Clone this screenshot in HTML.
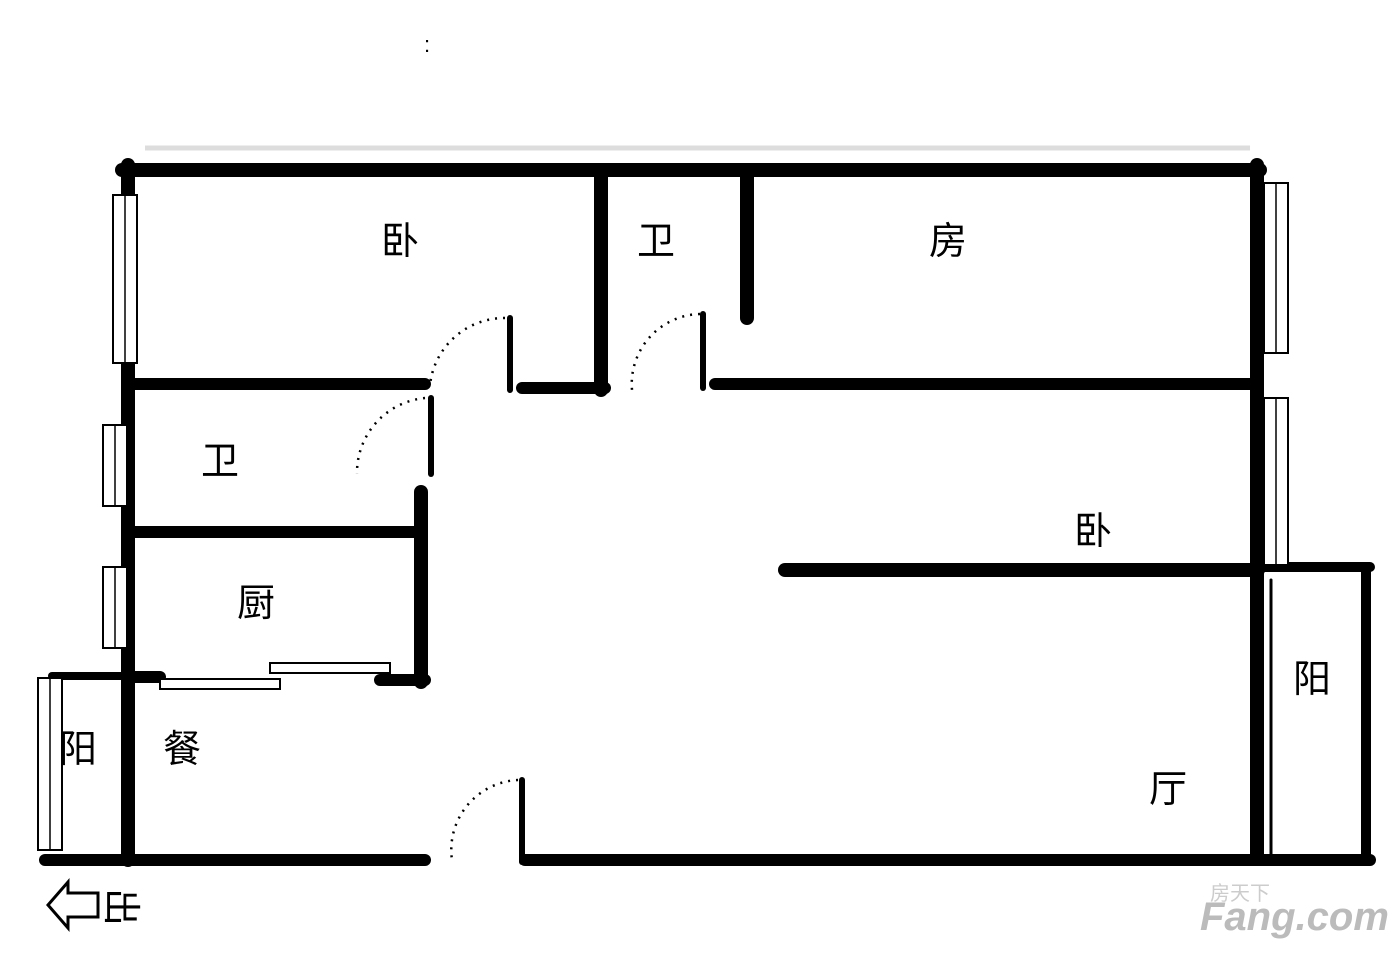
<!DOCTYPE html>
<html><head><meta charset="utf-8"><style>
html,body{margin:0;padding:0;background:#fff;}
svg{display:block}
text{font-family:"Liberation Sans","Noto Sans CJK SC",sans-serif;}
</style></head><body>
<svg width="1400" height="959" viewBox="0 0 1400 959" xmlns="http://www.w3.org/2000/svg">
<rect width="1400" height="959" fill="#fff"/>
<text x="424" y="52" font-size="22" fill="#000">:</text>
<line x1="145" y1="148" x2="1250" y2="148" stroke="#ddd" stroke-width="5"/>
<g stroke="#000" stroke-linecap="round" fill="none">
<!-- outer -->
<line x1="122" y1="170" x2="1260" y2="170" stroke-width="14"/>
<line x1="128" y1="165" x2="128" y2="860" stroke-width="14"/>
<line x1="1257" y1="165" x2="1257" y2="858" stroke-width="14"/>
<line x1="45" y1="860" x2="425" y2="860" stroke-width="12"/>
<line x1="525" y1="860" x2="1370" y2="860" stroke-width="12"/>
<line x1="1262" y1="567" x2="1370" y2="567" stroke-width="10"/>
<line x1="1366" y1="567" x2="1366" y2="860" stroke-width="10"/>
<line x1="52" y1="676" x2="128" y2="676" stroke-width="8"/>
<!-- interior -->
<line x1="135" y1="384" x2="425" y2="384" stroke-width="12"/>
<line x1="510" y1="318" x2="510" y2="390" stroke-width="6"/>
<line x1="522" y1="388" x2="605" y2="388" stroke-width="12"/>
<line x1="601" y1="172" x2="601" y2="390" stroke-width="14"/>
<line x1="747" y1="172" x2="747" y2="318" stroke-width="14"/>
<line x1="703" y1="314" x2="703" y2="388" stroke-width="6"/>
<line x1="715" y1="384" x2="1252" y2="384" stroke-width="12"/>
<line x1="431" y1="398" x2="431" y2="474" stroke-width="6"/>
<line x1="421" y1="492" x2="421" y2="682" stroke-width="14"/>
<line x1="135" y1="532" x2="420" y2="532" stroke-width="12"/>
<line x1="135" y1="677" x2="160" y2="677" stroke-width="12"/>
<line x1="380" y1="680" x2="425" y2="680" stroke-width="12"/>
<line x1="785" y1="570" x2="1258" y2="570" stroke-width="14"/>
<line x1="522" y1="780" x2="522" y2="862" stroke-width="6"/>
<line x1="1271" y1="580" x2="1271" y2="855" stroke-width="3"/>
</g>
<!-- windows -->
<g fill="#fff" stroke="#000" stroke-width="2">
<rect x="113" y="195" width="24" height="168"/>
<rect x="103" y="425" width="24" height="81"/>
<rect x="103" y="567" width="24" height="81"/>
<rect x="1264" y="183" width="24" height="170"/>
<rect x="1264" y="398" width="24" height="167"/>
<rect x="38" y="678" width="24" height="172"/>
<rect x="160" y="679" width="120" height="10"/>
<rect x="270" y="663" width="120" height="10"/>
</g>
<g stroke="#000" stroke-width="1.5">
<line x1="125" y1="195" x2="125" y2="363"/>
<line x1="115" y1="425" x2="115" y2="506"/>
<line x1="115" y1="567" x2="115" y2="648"/>
<line x1="1276" y1="183" x2="1276" y2="353"/>
<line x1="1276" y1="398" x2="1276" y2="565"/>
<line x1="50" y1="678" x2="50" y2="850"/>
</g>
<!-- door arcs -->
<g stroke="#000" stroke-width="2.5" fill="none" stroke-dasharray="2,6">
<path d="M505 318 A75 75 0 0 0 430 385"/>
<path d="M700 314 A70 70 0 0 0 632 390"/>
<path d="M425 398 A75 75 0 0 0 357 474"/>
<path d="M518 780 A70 70 0 0 0 452 860"/>
</g>
<g font-size="38" fill="#000" text-anchor="middle">
<text x="400" y="254">卧</text>
<text x="656" y="254">卫</text>
<text x="948" y="254">房</text>
<text x="220" y="474">卫</text>
<text x="256" y="616">厨</text>
<text x="1093" y="544">卧</text>
<text x="1312" y="692">阳</text>
<text x="78" y="762">阳</text>
<text x="182" y="762">餐</text>
<text x="1168" y="802">厅</text>
</g>
<path d="M48 905 L68 882 L68 893 L98 893 L98 917 L68 917 L68 928 Z" fill="#fff" stroke="#000" stroke-width="3"/>
<text x="0" y="0" font-size="38" fill="#000" transform="translate(108,888) rotate(90)">出</text>
<text x="1200" y="930" font-size="40" font-weight="bold" font-style="italic" fill="#bbb">Fang.com</text>
<text x="1210" y="900" font-size="20" fill="#ccc">房天下</text>
</svg>
</body></html>
